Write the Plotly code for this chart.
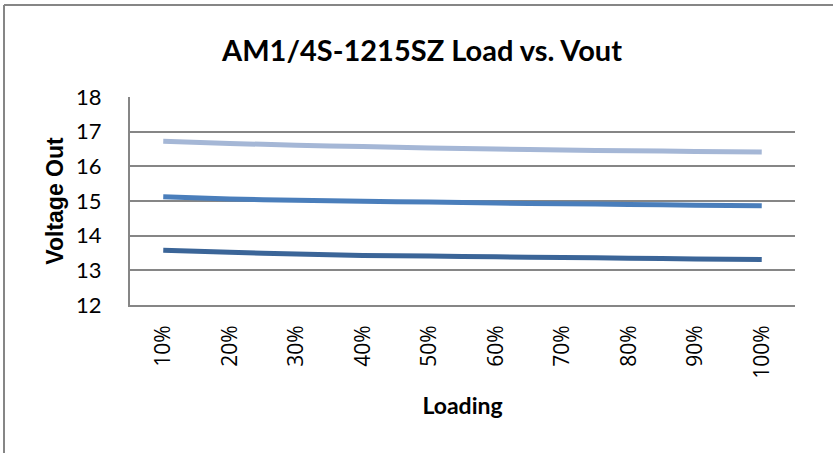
import plotly.graph_objects as go

categories = ["10%", "20%", "30%", "40%", "50%", "60%", "70%", "80%", "90%", "100%"]
series_top = [16.72, 16.66, 16.61, 16.57, 16.53, 16.50, 16.47, 16.45, 16.43, 16.41]
series_mid = [15.12, 15.06, 15.02, 14.99, 14.97, 14.94, 14.92, 14.90, 14.88, 14.86]
series_bot = [13.58, 13.52, 13.47, 13.43, 13.41, 13.39, 13.37, 13.35, 13.33, 13.31]
y_ticks = [12, 13, 14, 15, 16, 17, 18]

FONT = "Lato, 'Open Sans', sans-serif"

fig = go.Figure()
for vals, col in [(series_top, "#A5B7D6"), (series_mid, "#4A7EBB"), (series_bot, "#3B6598")]:
    fig.add_trace(go.Scatter(x=categories, y=vals, mode="lines",
                             line=dict(color=col, width=5, shape="spline", smoothing=0.6),
                             showlegend=False, hoverinfo="skip"))

fig.update_layout(
    width=833, height=453,
    margin=dict(l=130, r=38, t=97, b=148),
    paper_bgcolor="white", plot_bgcolor="white",
    title=dict(text="<b>AM1/4S-1215SZ Load vs. Vout</b>", x=422 / 833, xanchor="center",
               y=1 - 51 / 453, yanchor="middle",
               font=dict(family=FONT, size=29, color="black")),
    font=dict(family=FONT, color="black"),
)
fig.update_xaxes(type="category", range=[-0.5, 9.5], tickangle=-90,
                 tickfont=dict(size=21, family="'Open Sans', Lato, sans-serif"),
                 showline=True, linecolor="#868686", linewidth=2,
                 showgrid=False, ticks="", ticklabelstandoff=10,
                 title=dict(text="<b>Loading</b>", font=dict(size=23), standoff=20))
fig.update_yaxes(range=[12, 18], tickvals=y_ticks, tickfont=dict(size=22),
                 showline=True, linecolor="#868686", linewidth=2,
                 showgrid=True, gridcolor="#868686", gridwidth=1.5,
                 zeroline=False, ticks="", ticklabelstandoff=22,
                 title=dict(text="<b>Voltage Out</b>",
                            font=dict(family="'Liberation Sans', Arial, sans-serif", size=23),
                            standoff=6))

# outer chart border (top and left edges visible)
fig.add_shape(type="line", xref="paper", yref="paper",
              x0=-126 / 665, x1=1 + 40 / 665, y0=1 + 92 / 208, y1=1 + 92 / 208,
              line=dict(color="#868686", width=2))
fig.add_shape(type="line", xref="paper", yref="paper",
              x0=-126 / 665, x1=-126 / 665, y0=1 + 92 / 208, y1=-150 / 208,
              line=dict(color="#868686", width=2))

fig.write_html("out.html", config={"displayModeBar": False},
               post_script="document.body.style.margin='0';document.body.style.overflow='hidden';")
